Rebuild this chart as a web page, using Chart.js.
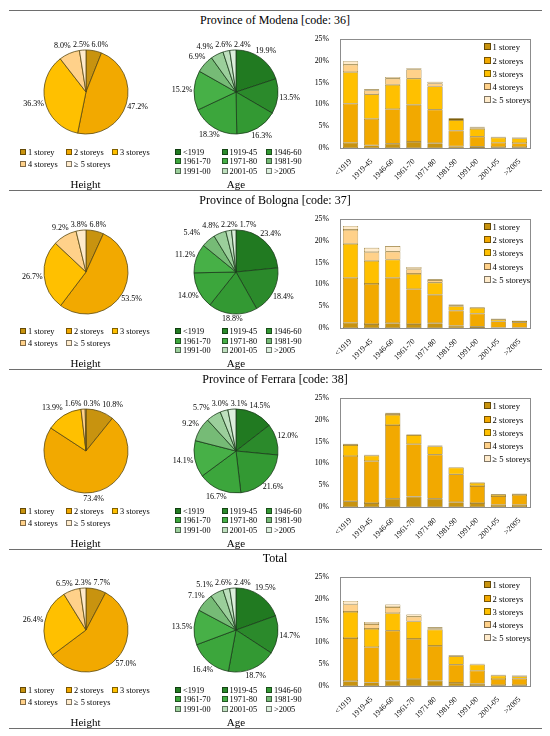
<!DOCTYPE html>
<html>
<head>
<meta charset="utf-8">
<script src="https://cdn.jsdelivr.net/npm/chart.js@4.4.1/dist/chart.umd.min.js"></script>
<style>
body { margin: 0; background: #fff; color: #000; font-family: 'Liberation Serif', 'DejaVu Serif', serif; }
#page { position: relative; width: 550px; height: 736px; overflow: hidden; }
.rule { position: absolute; left: 9px; width: 533px; height: 0; border-top: 1.5px solid #6e6e6e; }
.title { position: absolute; left: 0; width: 550px; text-align: center; font-size: 12px; line-height: 14px; }
.cap { position: absolute; width: 100px; text-align: center; font-size: 11px; line-height: 13px; }
.lg { position: absolute; font-size: 8.3px; line-height: 9px; white-space: nowrap; }
.lg i { display: inline-block; width: 4px; height: 4px; border: 1px solid rgba(0,0,0,0.5); margin-right: 2px; vertical-align: 0; }
.blg { font-size: 8.6px; }
.blg i { width: 5px; height: 5px; }
canvas { position: absolute; }
</style>
</head>
<body>
<div id="page"></div>
<script>
// ========== DATA ==========
const TITLES = ['Province of Modena [code: 36]', 'Province of Bologna [code: 37]', 'Province of Ferrara [code: 38]', 'Total'];
const HEIGHT_LABELS = ['1 storey', '2 storeys', '3 storeys', '4 storeys', '\u2265 5 storeys'];
const AGE_LABELS = ['<1919', '1919-45', '1946-60', '1961-70', '1971-80', '1981-90', '1991-00', '2001-05', '>2005'];
const Y_TICKS = [0, 5, 10, 15, 20, 25];

// pie shares (%)
const MODENA_HEIGHT = [6.0, 47.2, 36.3, 8.0, 2.5];
const BOLOGNA_HEIGHT = [6.8, 53.5, 26.7, 9.2, 3.8];
const FERRARA_HEIGHT = [10.8, 73.4, 13.9, 1.6, 0.3];
const TOTAL_HEIGHT = [7.7, 57.0, 26.4, 6.5, 2.3];

const MODENA_AGE = [19.9, 13.5, 16.3, 18.3, 15.2, 6.9, 4.9, 2.6, 2.4];
const BOLOGNA_AGE = [23.4, 18.4, 18.8, 14.0, 11.2, 5.4, 4.8, 2.2, 1.7];
const FERRARA_AGE = [14.5, 12.0, 21.6, 16.7, 14.1, 9.2, 5.7, 3.0, 3.1];
const TOTAL_AGE = [19.5, 14.7, 18.7, 16.4, 13.5, 7.1, 5.1, 2.6, 2.4];

// stacked bars: one row per storey class, one value per age class (%)
const MODENA_BARS = [
    [1.2, 0.6, 1.0, 1.4, 1.1, 0.4, 0.3, 0.2, 0.2],
    [9.0, 6.1, 7.9, 8.5, 7.7, 3.6, 2.3, 1.0, 0.9],
    [7.2, 5.6, 5.6, 6.0, 5.3, 2.4, 1.8, 1.2, 1.1],
    [1.7, 0.9, 1.4, 2.1, 0.7, 0.3, 0.3, 0.1, 0.1],
    [0.8, 0.3, 0.4, 0.3, 0.4, 0.2, 0.2, 0.1, 0.1]
];
const BOLOGNA_BARS = [
    [1.2, 0.9, 1.1, 0.9, 1.1, 0.5, 0.3, 0.1, 0.1],
    [10.3, 9.2, 10.4, 8.0, 6.5, 3.5, 3.0, 1.4, 1.2],
    [7.8, 5.3, 4.2, 3.5, 2.8, 1.0, 1.3, 0.5, 0.3],
    [3.2, 2.0, 1.8, 1.1, 0.6, 0.2, 0.1, 0.1, 0.05],
    [0.9, 1.0, 1.3, 0.5, 0.2, 0.2, 0.1, 0.1, 0.05]
];
const FERRARA_BARS = [
    [1.3, 0.9, 1.9, 2.4, 1.9, 1.1, 0.9, 0.5, 0.5],
    [10.4, 9.6, 16.9, 12.0, 10.1, 6.4, 3.9, 2.0, 2.3],
    [2.5, 1.3, 2.3, 2.1, 1.9, 1.5, 0.7, 0.4, 0.2],
    [0.2, 0.1, 0.3, 0.1, 0.1, 0.1, 0.1, 0.05, 0.05],
    [0.1, 0.1, 0.2, 0.1, 0.1, 0.1, 0.1, 0.05, 0.05]
];
const TOTAL_BARS = [
    [1.1, 0.8, 1.2, 1.6, 1.2, 0.7, 0.5, 0.2, 0.2],
    [9.9, 8.1, 11.5, 9.2, 8.0, 4.2, 3.0, 1.4, 1.5],
    [6.0, 4.2, 4.0, 4.0, 3.7, 1.9, 1.4, 0.8, 0.5],
    [1.7, 1.1, 1.4, 1.1, 0.3, 0.2, 0.1, 0.1, 0.1],
    [0.8, 0.5, 0.6, 0.5, 0.3, 0.1, 0.1, 0.1, 0.1]
];

const ROWS = [
    { title: TITLES[0], height: MODENA_HEIGHT, age: MODENA_AGE, bars: MODENA_BARS },
    { title: TITLES[1], height: BOLOGNA_HEIGHT, age: BOLOGNA_AGE, bars: BOLOGNA_BARS },
    { title: TITLES[2], height: FERRARA_HEIGHT, age: FERRARA_AGE, bars: FERRARA_BARS },
    { title: TITLES[3], height: TOTAL_HEIGHT, age: TOTAL_AGE, bars: TOTAL_BARS }
];

// ========== STYLE ==========
const FONT = "'Liberation Serif', 'DejaVu Serif', serif";
const HEIGHT_COLORS = ['#c8930f', '#f2a900', '#ffc000', '#ffd18a', '#ffebcb'];
const AGE_COLORS = ['#217a21', '#2b8a2b', '#339933', '#3ca63c', '#47b047', '#76bb76', '#9bcf9b', '#bee0be', '#dcefdc'];
const ROW_TOPS = [0, 179.5, 359, 538];
const PIE_R = 42;

Chart.defaults.font.family = FONT;
Chart.defaults.color = '#000';

const page = document.getElementById('page');

function el(tag, cls, style, html) {
    const e = document.createElement(tag);
    if (cls) e.className = cls;
    Object.assign(e.style, style);
    if (html !== undefined) e.innerHTML = html;
    page.appendChild(e);
    return e;
}

function esc(s) {
    return s.replace(/&/g, '&amp;').replace(/</g, '&lt;').replace(/>/g, '&gt;');
}

function legendItem(x, y, color, text, cls) {
    el('span', 'lg' + (cls ? ' ' + cls : ''), { left: x + 'px', top: (y - 4.5) + 'px' },
        `<i style="background:${color}"></i>${esc(text)}`);
}

// outside labels for pie slices, spread sideways when they collide
const pieLabels = {
    id: 'pieLabels',
    afterDatasetsDraw(chart) {
        const { ctx } = chart;
        const meta = chart.getDatasetMeta(0);
        const data = chart.data.datasets[0].data;
        ctx.save();
        ctx.font = `8px ${FONT}`;
        ctx.fillStyle = '#000';
        ctx.textAlign = 'center';
        ctx.textBaseline = 'middle';
        const items = meta.data.map((arc, i) => {
            const a = (arc.startAngle + arc.endAngle) / 2;
            const c = Math.cos(a), s = Math.sin(a);
            const d = arc.outerRadius + 5 + 7 * Math.abs(c);
            const txt = data[i].toFixed(1) + '%';
            return { txt, x: arc.x + d * c, y: arc.y + d * s, w: ctx.measureText(txt).width, h: 8 };
        });
        for (let pass = 0; pass < 60; pass++) {
            let moved = false;
            for (let i = 0; i < items.length; i++) {
                for (let j = i + 1; j < items.length; j++) {
                    const p = items[i], q = items[j];
                    const need = (p.w + q.w) / 2 + 2;
                    const dx = q.x - p.x;
                    if (Math.abs(dx) < need && Math.abs(q.y - p.y) < (p.h + q.h) / 2) {
                        const push = (need - Math.abs(dx)) / 2 + 0.1;
                        const dir = dx >= 0 ? 1 : -1;
                        p.x -= dir * push;
                        q.x += dir * push;
                        moved = true;
                    }
                }
            }
            if (!moved) break;
        }
        items.forEach(it => ctx.fillText(it.txt, it.x, it.y));
        ctx.restore();
    }
};

// full frame around the bar plot
const plotFrame = {
    id: 'plotFrame',
    afterDraw(chart) {
        const { ctx, chartArea: a } = chart;
        ctx.save();
        ctx.strokeStyle = '#8c8c8c';
        ctx.lineWidth = 1;
        ctx.strokeRect(Math.round(a.left) + 0.5, Math.round(a.top) + 0.5, Math.round(a.right - a.left), Math.round(a.bottom - a.top));
        ctx.restore();
    }
};

function makePie(x, y, labels, data, colors, border) {
    const cv = el('canvas', '', { left: (x - 75) + 'px', top: (y - 60) + 'px' });
    cv.width = 150; cv.height = 120;
    new Chart(cv, {
        type: 'pie',
        data: { labels, datasets: [{ data, backgroundColor: colors, borderColor: border, borderWidth: 0.8, radius: PIE_R }] },
        options: {
            responsive: false, animation: false, events: [],
            plugins: { legend: { display: false }, tooltip: { enabled: false } }
        },
        plugins: [pieLabels]
    });
}

function makeBars(x, y, bars) {
    const cv = el('canvas', '', { left: x + 'px', top: y + 'px' });
    cv.width = 245; cv.height = 160;
    const tickFont = { family: FONT, size: 7.8 };
    new Chart(cv, {
        type: 'bar',
        data: {
            labels: AGE_LABELS,
            datasets: HEIGHT_LABELS.map((label, k) => ({
                label, data: bars[k],
                backgroundColor: HEIGHT_COLORS[k], borderColor: '#7d5e0c', borderWidth: 0.6,
                borderSkipped: false, barPercentage: 0.72, categoryPercentage: 1
            }))
        },
        options: {
            responsive: false, animation: false, events: [],
            layout: { padding: { top: 14, right: 15, left: 0, bottom: 0 } },
            plugins: { legend: { display: false }, tooltip: { enabled: false } },
            scales: {
                x: {
                    stacked: true,
                    grid: { display: false }, border: { color: '#8c8c8c' },
                    ticks: { minRotation: 45, maxRotation: 45, font: tickFont, padding: 1, autoSkip: false },
                    afterFit(s) { s.height = 37; }
                },
                y: {
                    stacked: true, min: 0, max: 25,
                    grid: { display: false }, border: { color: '#8c8c8c' },
                    afterBuildTicks(s) { s.ticks = Y_TICKS.map(v => ({ value: v })); },
                    ticks: { font: tickFont, padding: 3, callback: v => v + '%' },
                    afterFit(s) { s.width = 40; }
                }
            }
        },
        plugins: [plotFrame]
    });
}

// ========== BUILD ==========
el('div', 'rule', { top: '10px' });
ROWS.forEach((row, r) => {
    const t = ROW_TOPS[r];
    el('div', 'title', { top: (t + 13) + 'px' }, esc(row.title));

    makePie(85.5, t + 92, HEIGHT_LABELS, row.height, HEIGHT_COLORS, '#5c4a12');
    makePie(236, t + 92, AGE_LABELS, row.age, AGE_COLORS, '#1c3d1c');

    // height legend: 3 + 2
    HEIGHT_LABELS.forEach((l, i) => {
        legendItem(20 + (i % 3) * 46, t + 152 + Math.floor(i / 3) * 12, HEIGHT_COLORS[i], l);
    });
    // age legend: 3 x 3
    const ageX = [175, 221.5, 266];
    AGE_LABELS.forEach((l, i) => {
        legendItem(ageX[i % 3], t + 152 + Math.floor(i / 3) * 9.5, AGE_COLORS[i], l);
    });

    el('div', 'cap', { left: '35.5px', top: (t + 177.5) + 'px' }, 'Height');
    el('div', 'cap', { left: '186px', top: (t + 177.5) + 'px' }, 'Age');

    makeBars(300, t + 25, row.bars);
    HEIGHT_LABELS.forEach((l, i) => {
        legendItem(483.5, t + 47.7 + i * 13.3, HEIGHT_COLORS[i], l, 'blg');
    });

    el('div', 'rule', { top: (t + 189.5) + 'px' });
});
</script>
</body>
</html>
